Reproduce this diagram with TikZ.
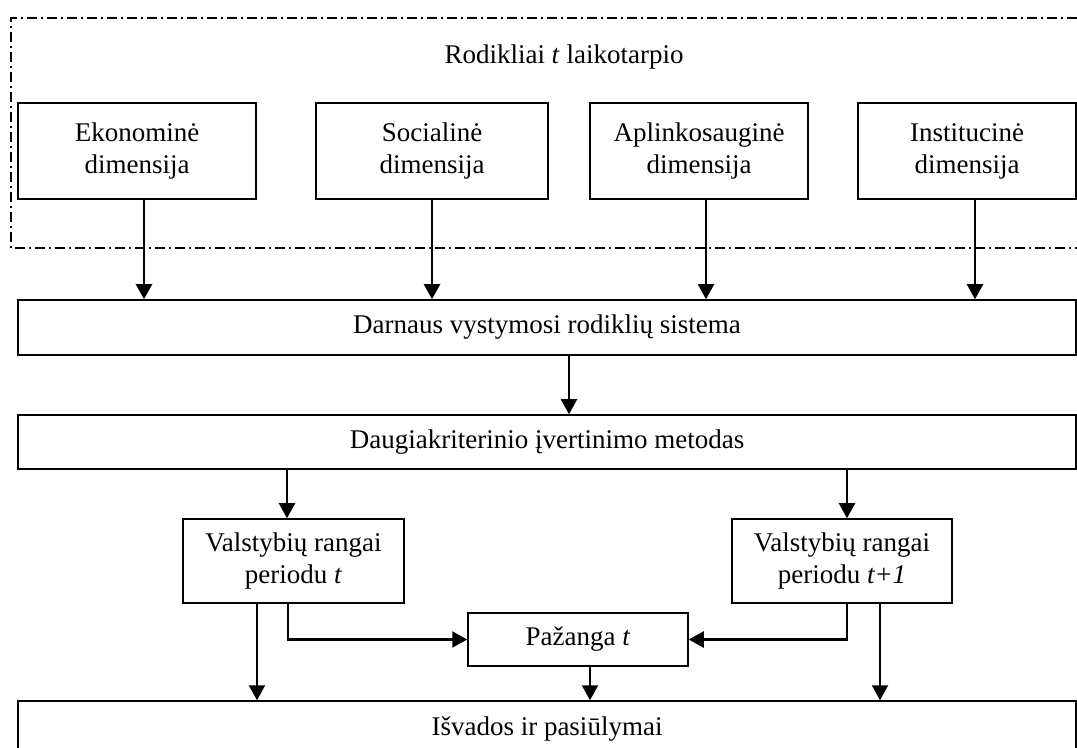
\documentclass[tikz,border=0pt]{standalone}
\usepackage{fontspec}
\setmainfont{Liberation Serif}
\usetikzlibrary{arrows, arrows.meta}

\begin{document}
\begin{tikzpicture}[x=0.5pt, y=-0.5pt,
    font=\fontsize{13.5}{16}\selectfont,
    box/.style={draw, line width=0.75pt, align=center, inner sep=0pt},
    arr/.style={-{Triangle[length=7.5pt, width=8pt]}, line width=1.05pt},
    frame/.style={line width=0.8pt, dash pattern=on 5pt off 2pt on 1pt off 2pt}]
      \clip (0,0) rectangle (1077,748);
      \useasboundingbox (0,0) rectangle (1077,748);

      \draw[frame] (1077,18) -- (11,18) -- (11,248) -- (1077,248);
      \node (title) at (564,57) {Rodikliai \textit{t} laikotarpio};

      \node[box, minimum width=119pt, minimum height=48pt] (eko) at (137,151) {Ekonominė\\dimensija};
      \node[box, minimum width=116pt, minimum height=48pt] (soc) at (432,151) {Socialinė\\dimensija};
      \node[box, minimum width=109pt, minimum height=48pt] (apl) at (699,151) {Aplinkosauginė\\dimensija};
      \node[box, minimum width=109pt, minimum height=48pt] (ins) at (967,151) {Institucinė\\dimensija};

      \node[box, minimum width=529pt, minimum height=27.5pt] (sis) at (547,327.5) {Darnaus vystymosi rodiklių sistema};
      \node[box, minimum width=529pt, minimum height=27pt] (met) at (547,442) {Daugiakriterinio įvertinimo metodas};

      \node[box, minimum width=110.5pt, minimum height=42pt] (rt) at (293.5,561) {Valstybių rangai\\periodu \textit{t}};
      \node[box, minimum width=110pt, minimum height=42pt] (rt1) at (842,561) {Valstybių rangai\\periodu \textit{t+1}};
      \node[box, minimum width=110pt, minimum height=26.5pt] (paz) at (578,639.5) {Pažanga \textit{t}};

      \node[box, minimum width=529pt, minimum height=28pt] (isv) at (547,729) {Išvados ir pasiūlymai};

      \draw[arr] ([xshift=3.5pt]eko.south) -- ([xshift=3.5pt]eko.south |- sis.north);
      \draw[arr] (soc.south) -- (soc.south |- sis.north);
      \draw[arr] ([xshift=3.5pt]apl.south) -- ([xshift=3.5pt]apl.south |- sis.north);
      \draw[arr] ([xshift=4pt]ins.south) -- ([xshift=4pt]ins.south |- sis.north);
      \draw[arr] ([xshift=11pt]sis.south) -- ([xshift=11pt]sis.south |- met.north);

      \draw[arr] ([xshift=-3.25pt]rt.north |- met.south) -- ([xshift=-3.25pt]rt.north);
      \draw[arr] ([xshift=2.5pt]rt1.north |- met.south) -- ([xshift=2.5pt]rt1.north);

      \draw[arr] ([xshift=-2.75pt]rt.south) |- (paz.west);
      \draw[arr] ([xshift=2.5pt]rt1.south) |- (paz.east);

      \draw[arr] ([xshift=-18.25pt]rt.south) -- ([xshift=-18.25pt]rt.south |- isv.north);
      \draw[arr] ([xshift=19pt]rt1.south) -- ([xshift=19pt]rt1.south |- isv.north);
      \draw[arr] ([xshift=6pt]paz.south) -- ([xshift=6pt]paz.south |- isv.north);
    \end{tikzpicture}
\end{document}
